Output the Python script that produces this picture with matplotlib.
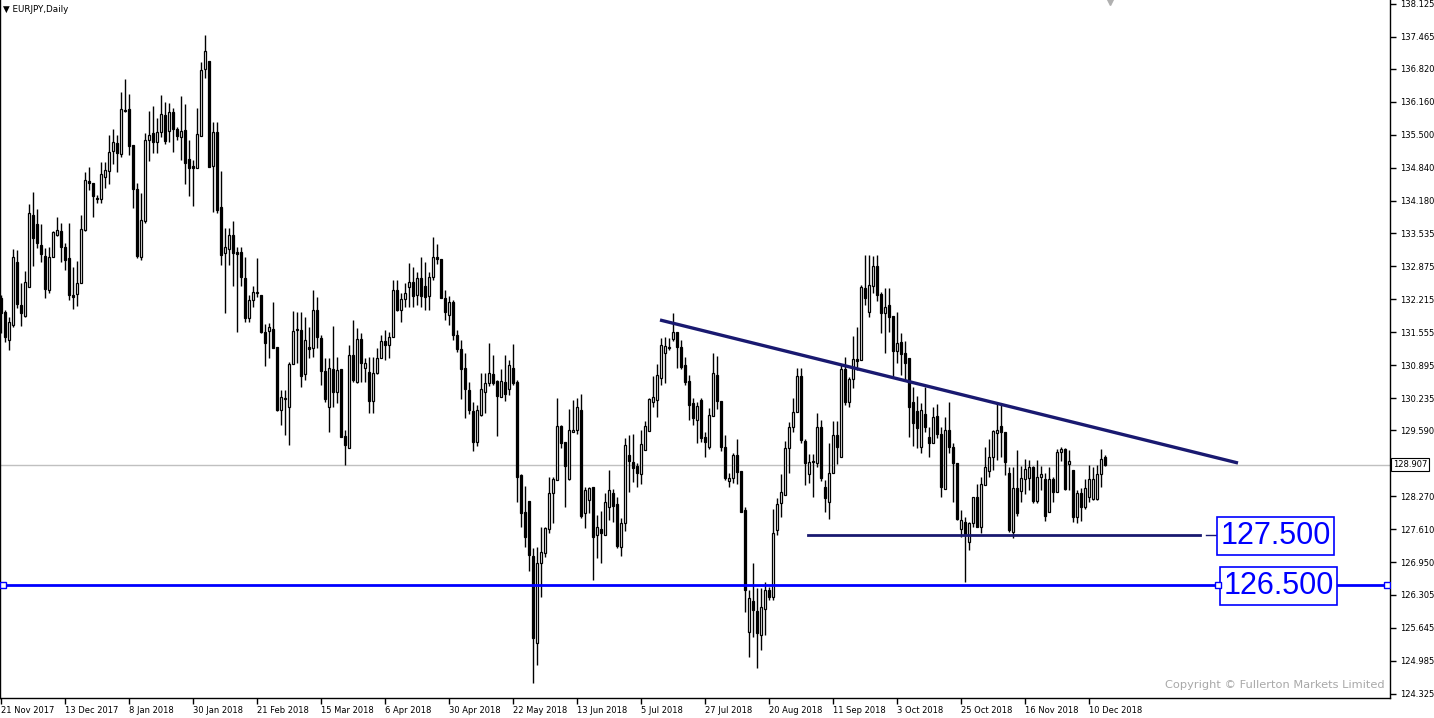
import matplotlib
matplotlib.use("Agg")
import matplotlib.pyplot as plt
import numpy as np

plt.rcParams['font.family'] = ['DejaVu Sans']

# EURJPY daily, 21 Nov 2017 .. 11 Dec 2018
opens = [
    132.24, 131.96, 131.40, 131.70, 132.96, 132.10, 131.88, 132.46, 133.90, 133.72,
    133.30, 133.08, 132.40, 133.06, 133.50, 133.58, 133.26, 133.04, 132.30, 132.32,
    132.54, 133.60, 134.58, 134.54, 134.24, 134.22, 134.66, 134.78, 135.18, 135.34,
    135.12, 136.00, 136.02, 135.30, 134.42, 133.06, 133.78, 135.40, 135.54, 135.36,
    135.56, 135.90, 135.58, 135.96, 135.62, 135.46, 135.60, 135.02, 134.88, 134.84,
    135.48, 136.82, 136.98, 134.88, 135.56, 134.06, 133.14, 133.22, 133.50, 133.16,
    133.16, 132.64, 131.84, 132.20, 132.34, 132.30, 131.56, 131.58, 131.62, 131.26,
    130.00, 130.22, 130.06, 130.92, 131.60, 131.60, 130.72, 131.26, 131.24, 132.00,
    131.44, 130.78, 130.06, 130.82, 130.36, 130.82, 129.48, 129.24, 131.10, 130.56,
    131.42, 130.84, 130.76, 130.18, 130.74, 131.04, 131.38, 131.30, 131.46, 132.40,
    132.00, 132.22, 132.46, 132.56, 132.30, 132.64, 132.48, 132.28, 132.66, 133.06,
    133.02, 132.24, 131.90, 132.16, 131.50, 131.22, 130.84, 130.40, 129.98, 129.36,
    129.90, 130.36, 130.54, 130.72, 130.58, 130.26, 130.56, 130.42, 130.84, 130.56,
    128.70, 127.96, 128.18, 127.08, 125.34, 126.94, 127.14, 127.62, 128.34, 128.60,
    129.68, 129.36, 128.62, 129.56, 129.60, 130.00, 127.94, 128.20, 128.46, 127.50,
    127.62, 127.50, 128.06, 128.34, 128.12, 127.26, 127.74, 129.10, 128.96, 128.88,
    128.72, 129.20, 129.58, 130.16, 130.20, 130.64, 131.14, 131.24, 131.42, 131.56,
    131.26, 130.90, 130.58, 130.14, 129.80, 130.20, 129.46, 129.26, 129.88, 130.70,
    130.18, 129.26, 128.58, 128.64, 129.10, 128.78, 128.00, 125.56, 126.18, 125.98,
    125.50, 126.02, 126.40, 126.26, 127.60, 128.14, 128.30, 129.24, 129.66, 129.96,
    130.68, 129.38, 128.72, 128.98, 128.94, 129.66, 128.46, 128.16, 128.74, 129.50,
    129.06, 130.82, 130.16, 130.62, 131.02, 131.00, 132.44, 131.96, 132.48, 132.88,
    132.32, 131.94, 132.10, 131.88, 131.18, 131.36, 131.14, 131.04, 130.16, 129.98,
    129.26, 129.92, 129.46, 129.34, 129.88, 129.52, 128.42, 129.60, 129.26, 128.94,
    127.62, 127.76, 127.36, 127.74, 128.26, 127.66, 128.50, 128.78, 129.06, 129.54,
    129.68, 129.56, 128.74, 127.56, 128.44, 128.38, 128.62, 128.64, 128.86, 128.18,
    128.66, 128.62, 127.96, 128.62, 128.36, 129.16, 129.22, 128.92, 128.80, 127.86,
    128.34, 128.06, 128.26, 128.22, 128.22, 128.72, 129.06,
]
highs = [
    132.30, 132.00, 131.86, 133.22, 133.20, 132.54, 132.78, 134.12, 134.36, 134.02,
    133.72, 133.24, 133.26, 133.58, 133.86, 133.74, 133.34, 133.74, 132.86, 132.98,
    133.90, 134.76, 134.86, 134.54, 134.30, 134.96, 134.96, 135.50, 135.62, 135.50,
    136.36, 136.62, 136.32, 135.30, 134.54, 134.34, 135.54, 135.98, 136.08, 135.84,
    136.30, 136.16, 136.14, 136.04, 135.66, 136.28, 136.12, 135.40, 135.00, 136.04,
    136.96, 137.50, 136.98, 135.76, 135.76, 134.78, 133.64, 133.64, 133.78, 133.26,
    133.26, 133.06, 132.30, 132.48, 133.04, 132.30, 131.72, 131.74, 132.16, 131.26,
    130.40, 130.40, 130.96, 131.98, 131.96, 131.96, 131.86, 131.66, 132.40, 132.26,
    131.50, 131.04, 131.04, 131.68, 131.06, 130.82, 129.60, 131.30, 131.80, 131.64,
    131.54, 131.04, 131.06, 131.06, 131.24, 131.50, 131.60, 131.56, 132.60, 132.60,
    132.34, 132.54, 132.94, 132.86, 132.76, 133.06, 132.96, 132.76, 133.46, 133.32,
    133.02, 132.40, 132.28, 132.20, 131.60, 131.40, 131.14, 130.56, 130.16, 130.10,
    130.74, 130.74, 131.34, 131.10, 130.60, 130.82, 131.10, 131.00, 131.32, 130.60,
    128.72, 128.48, 128.18, 127.24, 127.26, 127.66, 127.66, 128.66, 128.66, 130.24,
    129.70, 129.36, 130.02, 130.20, 130.24, 130.32, 128.46, 128.46, 128.46, 127.90,
    127.98, 128.34, 128.80, 128.42, 128.26, 127.84, 129.44, 129.50, 129.52, 128.94,
    129.60, 129.78, 130.24, 130.68, 130.92, 131.44, 131.46, 131.44, 131.94, 131.56,
    131.40, 131.06, 130.70, 130.24, 130.16, 130.24, 129.56, 130.04, 131.14, 131.08,
    130.18, 129.50, 128.74, 129.14, 129.42, 128.78, 128.06, 126.40, 126.94, 126.44,
    126.44, 126.56, 126.46, 128.02, 128.24, 128.72, 129.38, 129.76, 130.24, 130.84,
    130.84, 129.42, 129.12, 129.12, 129.94, 129.80, 128.60, 129.34, 129.78, 129.78,
    130.92, 131.06, 130.66, 131.48, 131.66, 132.50, 133.10, 133.10, 133.08, 133.10,
    132.36, 132.44, 132.44, 131.88, 131.96, 131.54, 131.38, 131.04, 130.46, 130.28,
    130.14, 130.46, 129.66, 130.06, 130.12, 129.66, 129.86, 130.16, 129.34, 128.94,
    128.00, 127.86, 127.76, 128.26, 128.52, 128.66, 129.26, 129.42, 129.60, 130.12,
    130.14, 129.56, 128.86, 128.86, 129.20, 128.88, 129.02, 129.00, 128.88, 129.00,
    128.88, 128.74, 128.86, 128.66, 129.22, 129.26, 129.24, 129.20, 128.80, 128.40,
    128.44, 128.62, 128.90, 128.86, 128.90, 129.22, 129.10,
]
lows = [
    131.54, 131.36, 131.20, 131.66, 132.04, 131.68, 131.86, 132.46, 132.88, 133.24,
    132.96, 132.24, 132.34, 133.06, 133.48, 132.96, 132.80, 132.20, 132.02, 132.08,
    132.54, 133.58, 134.40, 133.86, 134.14, 134.14, 134.44, 134.52, 134.92, 134.76,
    135.06, 135.96, 135.10, 134.04, 133.04, 133.00, 133.74, 134.98, 135.14, 135.14,
    135.46, 135.32, 135.36, 135.16, 135.40, 135.00, 134.52, 134.28, 134.08, 134.84,
    135.48, 136.64, 134.86, 133.96, 133.94, 132.90, 131.94, 132.90, 132.48, 131.56,
    132.48, 131.76, 131.76, 132.06, 132.26, 131.54, 130.88, 131.04, 131.24, 129.98,
    129.70, 129.50, 129.30, 130.92, 130.94, 130.46, 130.60, 131.04, 131.06, 131.24,
    130.50, 130.16, 129.56, 130.06, 130.14, 129.46, 128.90, 129.24, 130.56, 130.54,
    130.56, 130.56, 129.94, 129.94, 130.72, 131.04, 131.00, 131.04, 131.46, 131.98,
    131.76, 132.06, 132.06, 132.06, 132.10, 132.06, 132.00, 132.00, 132.60, 132.92,
    132.24, 131.80, 131.70, 131.40, 131.16, 130.22, 129.84, 129.92, 129.18, 129.28,
    129.88, 129.94, 130.48, 130.50, 129.48, 130.26, 130.18, 130.30, 130.50, 128.16,
    127.66, 127.26, 126.78, 124.54, 124.90, 126.26, 127.06, 127.54, 127.74, 128.60,
    129.24, 128.06, 128.60, 129.56, 129.52, 127.84, 127.64, 127.94, 126.60, 127.04,
    126.94, 127.50, 127.80, 127.76, 127.24, 127.08, 127.58, 128.36, 128.56, 128.46,
    128.52, 129.20, 129.58, 130.06, 129.86, 130.50, 130.54, 131.20, 131.38, 130.84,
    130.82, 130.50, 129.80, 129.70, 129.34, 129.36, 129.06, 129.22, 129.88, 130.02,
    129.18, 128.60, 128.46, 128.54, 128.52, 127.96, 125.96, 125.06, 125.46, 124.84,
    125.20, 125.50, 126.20, 126.20, 127.50, 127.86, 128.30, 128.74, 129.56, 129.96,
    129.34, 128.50, 128.54, 128.26, 128.86, 128.58, 127.96, 127.82, 128.74, 128.92,
    129.06, 130.10, 130.06, 130.44, 130.80, 131.00, 132.10, 131.86, 132.34, 132.18,
    131.54, 131.14, 131.56, 130.66, 130.94, 130.70, 130.60, 129.46, 129.28, 129.24,
    129.14, 129.56, 129.06, 129.34, 129.44, 128.26, 128.42, 129.14, 128.16, 127.80,
    127.46, 126.56, 127.20, 127.66, 127.66, 127.54, 128.50, 128.66, 128.80, 129.00,
    129.06, 128.70, 127.56, 127.44, 127.88, 128.16, 128.32, 128.40, 128.14, 128.14,
    128.40, 127.78, 127.96, 128.16, 128.36, 128.98, 128.40, 128.40, 127.76, 127.74,
    127.78, 128.02, 128.16, 128.20, 128.20, 128.46, 128.88,
]
closes = [
    131.94, 131.46, 131.76, 133.06, 132.12, 131.94, 132.56, 133.94, 133.44, 133.34,
    133.12, 132.42, 133.06, 133.56, 133.60, 133.26, 133.00, 132.30, 132.26, 132.54,
    133.62, 134.60, 134.54, 134.28, 134.22, 134.72, 134.80, 135.16, 135.36, 135.14,
    136.02, 135.98, 135.28, 134.42, 133.08, 133.80, 135.40, 135.50, 135.36, 135.56,
    135.92, 135.38, 135.96, 135.62, 135.48, 135.58, 134.94, 134.84, 134.84, 135.52,
    136.80, 137.18, 134.86, 135.56, 134.00, 133.10, 133.26, 133.50, 133.14, 133.12,
    132.66, 131.84, 132.20, 132.36, 132.34, 131.56, 131.34, 131.66, 131.24, 130.00,
    130.26, 130.22, 130.92, 131.58, 131.60, 130.68, 131.40, 131.22, 132.00, 131.46,
    130.78, 130.22, 130.84, 130.36, 130.80, 129.46, 129.30, 131.10, 130.60, 131.42,
    130.94, 130.94, 130.18, 130.74, 131.04, 131.38, 131.30, 131.46, 132.40, 132.00,
    132.22, 132.34, 132.56, 132.28, 132.64, 132.28, 132.26, 132.66, 133.06, 133.02,
    132.24, 131.96, 132.16, 131.50, 131.22, 130.82, 130.42, 130.00, 129.36, 130.00,
    130.42, 130.54, 130.74, 130.54, 130.28, 130.58, 130.32, 130.90, 130.54, 128.66,
    127.94, 127.46, 127.10, 125.44, 126.94, 127.16, 127.64, 128.34, 128.62, 129.68,
    129.34, 128.88, 129.60, 129.60, 130.06, 127.88, 128.40, 128.44, 127.46, 127.66,
    127.54, 128.16, 128.40, 128.08, 127.28, 127.74, 129.30, 128.98, 128.84, 128.74,
    129.32, 129.68, 130.22, 130.26, 130.70, 131.30, 131.28, 131.26, 131.56, 131.26,
    130.86, 130.56, 130.10, 129.84, 130.08, 129.44, 129.36, 129.90, 130.74, 130.18,
    129.26, 128.64, 128.64, 129.10, 128.76, 127.96, 126.40, 126.24, 126.00, 125.54,
    126.06, 126.40, 126.26, 127.54, 128.12, 128.36, 129.24, 129.66, 129.96, 130.68,
    129.40, 128.94, 128.96, 128.96, 129.66, 128.64, 128.24, 128.74, 129.50, 129.26,
    130.82, 130.16, 130.62, 131.02, 130.98, 132.46, 132.24, 132.50, 132.88, 132.30,
    131.94, 132.06, 131.86, 131.18, 131.34, 131.12, 130.94, 130.06, 129.74, 129.64,
    130.00, 129.66, 129.34, 129.86, 129.52, 128.46, 129.60, 129.26, 128.94, 127.82,
    127.80, 127.52, 127.74, 128.26, 127.66, 128.52, 128.86, 129.06, 129.58, 129.60,
    129.56, 128.96, 127.60, 128.44, 127.94, 128.64, 128.82, 128.86, 128.18, 128.66,
    128.72, 127.88, 128.62, 128.36, 129.16, 129.22, 128.42, 128.98, 127.86, 128.34,
    128.06, 128.44, 128.62, 128.62, 128.72, 129.02, 128.907,
]

date_labels = ["21 Nov 2017", "13 Dec 2017", "8 Jan 2018", "30 Jan 2018", "21 Feb 2018",
               "15 Mar 2018", "6 Apr 2018", "30 Apr 2018", "22 May 2018", "13 Jun 2018",
               "5 Jul 2018", "27 Jul 2018", "20 Aug 2018", "11 Sep 2018", "3 Oct 2018",
               "25 Oct 2018", "16 Nov 2018", "10 Dec 2018"]
date_bars = list(range(0, 273, 16))

price_ticks = [138.125, 137.465, 136.820, 136.160, 135.500, 134.840, 134.180, 133.535,
               132.875, 132.215, 131.555, 130.895, 130.235, 129.590, 128.270, 127.610,
               126.950, 126.305, 125.645, 124.985, 124.325]

# drawn objects
trend_x = [164.75, 309.25]
trend_y = [131.80, 128.94]
support_level = 127.5
support_x = [201.75, 299.75]
blue_level = 126.5
last_price = closes[-1]

W, H = 1434, 718
fig = plt.figure(figsize=(W / 100, H / 100), dpi=100)
ax = fig.add_axes([0, 20 / H, 1390 / W, 698 / H])
ax.set_xlim(-0.25, 347.25)
ax.set_ylim(124.24, 138.2)

n = len(closes)
idx = np.arange(n)
o = np.array(opens)
c = np.array(closes)
hi = np.array(highs)
lo = np.array(lows)

# wicks
ax.vlines(idx, lo, hi, color='black', lw=1, zorder=2)
# bodies
bottom = np.minimum(o, c)
height = np.maximum(np.abs(c - o), 0.012)
faces = ['black' if cc < oo else 'white' for oo, cc in zip(o, c)]
ax.bar(idx, height, bottom=bottom, width=0.5, color=faces, edgecolor='black',
       linewidth=0.9, zorder=3)

# current price line
ax.axhline(last_price, color='#c0c0c0', lw=1, zorder=1)

# trend line and support
ax.plot(trend_x, trend_y, color='#191970', lw=2.4, zorder=4, solid_capstyle='butt')
ax.plot(support_x, [support_level] * 2, color='#191970', lw=2, zorder=4)
ax.plot([301.2, 303.8], [support_level] * 2, color='#191970', lw=1, zorder=4)
ax.plot([0.5, 346.6], [blue_level] * 2, color='#0000ff', lw=2, zorder=4,
        marker='s', ms=4, mfc='white', mec='#0000ff', mew=1)
ax.plot([304.3], [blue_level], marker='s', ms=4, mfc='white', mec='#0000ff', mew=1, zorder=6)

box = dict(boxstyle='square,pad=0.12', fc='white', ec='#0000ff', lw=1.2)
ax.text(304.8, support_level - 0.02, "127.500", color='#0000ff', fontsize=22,
        family='Liberation Sans', ha='left', va='center', bbox=box, zorder=5)
ax.text(305.6, blue_level - 0.02, "126.500", color='#0000ff', fontsize=22,
        family='Liberation Sans', ha='left', va='center', bbox=box, zorder=5)

# small shift marker at the top
ax.plot([277.25], [138.15], marker='v', ms=4, color='#b0b0b0', zorder=5)

# axes
ax.spines['top'].set_visible(False)
for s in ['left', 'right', 'bottom']:
    ax.spines[s].set_color('black')
    ax.spines[s].set_linewidth(1)

ax.yaxis.tick_right()
ax.set_yticks(price_ticks)
ax.set_yticklabels([f"{p:.3f}" for p in price_ticks])
ax.tick_params(axis='y', direction='out', length=4, width=1, pad=3, labelsize=6)

ax.set_xticks(date_bars)
ax.set_xticklabels(date_labels, ha='left')
ax.tick_params(axis='x', direction='out', length=4, width=1, pad=2, labelsize=6)

ax.text(1.0 + 3 / 1390, last_price, f"{last_price:.3f}", transform=ax.get_yaxis_transform(),
        fontsize=6, ha='left', va='center', zorder=6,
        bbox=dict(boxstyle='square,pad=0.25', fc='white', ec='black', lw=0.8))

fig.text(3 / W, 1 - 9 / H, "\u25BC EURJPY,Daily", fontsize=6.3, ha='left', va='center')
fig.text(1385 / W, 1 - 685 / H, "Copyright \u00A9 Fullerton Markets Limited", fontsize=8.2,
         color='#a8a8a8', ha='right', va='center')

fig.savefig("out.png", dpi=100)
